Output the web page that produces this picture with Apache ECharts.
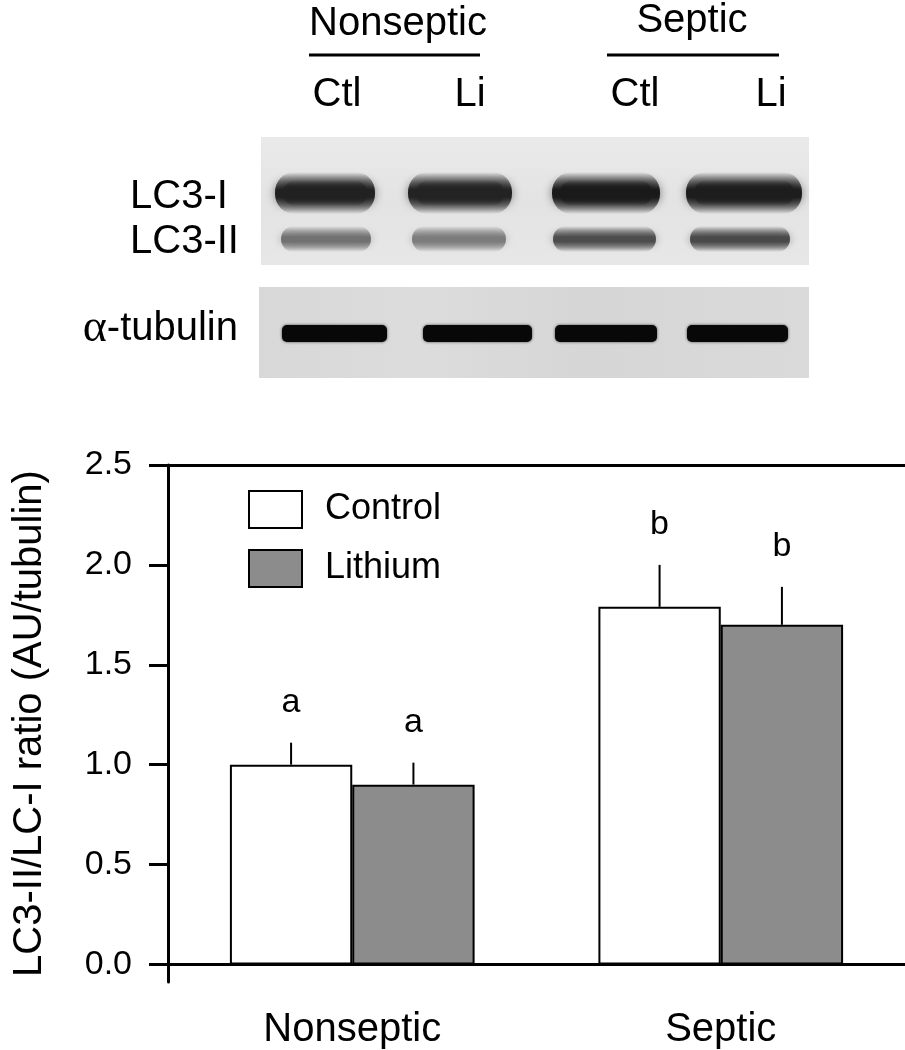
<!DOCTYPE html>
<html>
<head>
<meta charset="utf-8">
<script src="https://cdn.jsdelivr.net/npm/echarts@6/dist/echarts.min.js"></script>
<style>
html,body{margin:0;padding:0;background:#fff;}
#chart{width:905px;height:1050px;}
</style>
</head>
<body>
<div id="chart"></div>
<script>
// ---- data ----
const categories = ['Nonseptic', 'Septic'];
const controlValues = [1.00, 1.79];
const lithiumValues = [0.90, 1.70];
const controlErrors = [0.11, 0.21];
const lithiumErrors = [0.11, 0.19];
const controlLetters = ['a', 'b'];
const lithiumLetters = ['a', 'b'];
const yTicks = [0, 0.5, 1.0, 1.5, 2.0, 2.5];
const seriesNames = ['Control', 'Lithium'];
const yAxisTitle = 'LC3-II/LC-I ratio (AU/tubulin)';
const blotGroups = ['Nonseptic', 'Septic'];
const blotLanes = ['Ctl', 'Li', 'Ctl', 'Li'];
const blotRows = ['LC3-I', 'LC3-II', '-tubulin'];
// relative band darkness (0..1) read from the blot
const lc3iDark = [0.93, 0.92, 0.96, 0.95];
const lc3iiDark = [0.55, 0.5, 0.72, 0.74];

const FONT = '"Liberation Sans", Arial, sans-serif';
const chart = echarts.init(document.getElementById('chart'), null, {renderer: 'canvas'});

function errSeries(values, errors, letters, side) {
  return {
    type: 'custom',
    z: 5,
    silent: true,
    data: values.map((v, i) => [i, v, errors[i]]),
    renderItem: function (params, api) {
      const i = api.value(0), v = api.value(1), e = api.value(2);
      const band = api.size([1, 0])[0];
      const base = api.coord([i, v]);
      const top = api.coord([i, v + e]);
      const x = base[0] + side * band * 0.166;
      return {
        type: 'group',
        children: [
          {type: 'line', shape: {x1: x, y1: base[1], x2: x, y2: top[1]}, style: {stroke: '#000', lineWidth: 2}},
          {type: 'text', style: {text: letters[params.dataIndex], x: x, y: top[1] - 40, align: 'center', verticalAlign: 'middle', font: '34px ' + FONT, fill: '#000'}}
        ]
      };
    }
  };
}

function rgba(d, a) { const c = Math.round(230 - d * 212); return 'rgba(' + c + ',' + c + ',' + c + ',' + a + ')'; }
function bandFill(d) {
  return new echarts.graphic.LinearGradient(0, 0, 0, 1, [
    {offset: 0, color: rgba(d, 0)},
    {offset: 0.22, color: rgba(d, 0.55)},
    {offset: 0.42, color: rgba(d, 1)},
    {offset: 0.6, color: rgba(d, 1)},
    {offset: 0.8, color: rgba(d, 0.55)},
    {offset: 1, color: rgba(d, 0)}
  ]);
}

const lc3iSpan = [[271, 379], [404, 516], [548, 664], [682, 806]];
const lc3iiSpan = [[281, 371], [412, 506], [553, 656], [690, 790]];
const tubSpan = [[282, 387], [423, 532], [555, 657], [687, 788]];
const graphics = [];
// header texts
graphics.push({type: 'text', style: {text: blotGroups[0], x: 398, y: 24, align: 'center', verticalAlign: 'middle', font: '40px ' + FONT, fill: '#000'}});
graphics.push({type: 'text', style: {text: blotGroups[1], x: 692, y: 21, align: 'center', verticalAlign: 'middle', font: '40px ' + FONT, fill: '#000'}});
graphics.push({type: 'line', shape: {x1: 309, y1: 55, x2: 480, y2: 55}, style: {stroke: '#000', lineWidth: 3}});
graphics.push({type: 'line', shape: {x1: 607, y1: 55, x2: 779, y2: 55}, style: {stroke: '#000', lineWidth: 3}});
const laneLabelX = [337, 470, 635, 771];
blotLanes.forEach((t, i) => graphics.push({type: 'text', style: {text: t, x: laneLabelX[i], y: 95, align: 'center', verticalAlign: 'middle', font: '40px ' + FONT, fill: '#000'}}));
// row labels
graphics.push({type: 'text', style: {text: blotRows[0], x: 130, y: 197, align: 'left', verticalAlign: 'middle', font: '40px ' + FONT, fill: '#000'}});
graphics.push({type: 'text', style: {text: blotRows[1], x: 130, y: 242, align: 'left', verticalAlign: 'middle', font: '40px ' + FONT, fill: '#000'}});
graphics.push({type: 'text', style: {text: '{a|α}' + blotRows[2], x: 238, y: 329, align: 'right', verticalAlign: 'middle', font: '40px ' + FONT, fill: '#000',
  rich: {a: {fontFamily: '"Liberation Serif", "DejaVu Serif", serif', fontSize: 46, fill: '#000'}}}});
// blot boxes
graphics.push({type: 'rect', shape: {x: 261, y: 137, width: 548, height: 128}, style: {fill: new echarts.graphic.LinearGradient(0, 0, 0, 1, [{offset: 0, color: '#eaeaea'}, {offset: 0.5, color: '#e3e3e3'}, {offset: 1, color: '#e7e7e7'}])}});
graphics.push({type: 'rect', shape: {x: 259, y: 287, width: 550, height: 91}, style: {fill: new echarts.graphic.LinearGradient(0, 0, 1, 0, [{offset: 0, color: '#d8d8d8'}, {offset: 0.3, color: '#dcdcdc'}, {offset: 0.6, color: '#d6d6d6'}, {offset: 1, color: '#dadada'}])}});
// bands
lc3iSpan.forEach((s, i) => {
  const w = s[1] - s[0];
  graphics.push({type: 'rect', shape: {x: s[0] + 4, y: 172, width: w - 8, height: 42, r: 20}, style: {fill: bandFill(lc3iDark[i]), shadowBlur: 10, shadowColor: rgba(lc3iDark[i], 0.5)}});
  graphics.push({type: 'rect', shape: {x: s[0] + 12, y: 180, width: w - 24, height: 26, r: 13}, style: {fill: bandFill(lc3iDark[i]), shadowBlur: 8, shadowColor: rgba(lc3iDark[i], 0.4)}});
});
lc3iiSpan.forEach((s, i) => {
  const w = s[1] - s[0];
  graphics.push({type: 'rect', shape: {x: s[0], y: 226, width: w, height: 26, r: 13}, style: {fill: bandFill(lc3iiDark[i]), shadowBlur: 8, shadowColor: rgba(lc3iiDark[i], 0.4)}});
});
tubSpan.forEach((s) => {
  graphics.push({type: 'rect', shape: {x: s[0], y: 325, width: s[1] - s[0], height: 17, r: 5}, style: {fill: '#080808', shadowBlur: 3, shadowColor: '#444'}});
});

const option = {
  backgroundColor: '#fff',
  animation: false,
  textStyle: {fontFamily: FONT},
  grid: {left: 168, right: 0, top: 465, bottom: 55, containLabel: false},
  legend: {
    data: seriesNames,
    orient: 'vertical',
    left: 243, top: 485,
    itemWidth: 53, itemHeight: 37, itemGap: 20,
    icon: 'rect',
    textStyle: {fontSize: 36, color: '#000', fontFamily: FONT, padding: [0, 0, 0, 18]},
    selectedMode: false
  },
  xAxis: [
    {
      type: 'category', data: categories, position: 'bottom',
      axisLine: {onZero: true, lineStyle: {color: '#000', width: 3}},
      axisTick: {show: false},
      axisLabel: {fontSize: 40, color: '#000', margin: 28, fontFamily: FONT}
    },
    {
      type: 'category', data: categories, position: 'top',
      axisLine: {onZero: false, lineStyle: {color: '#000', width: 3}},
      axisTick: {show: false}, axisLabel: {show: false}
    }
  ],
  yAxis: {
    type: 'value', min: -0.088, max: 2.5,
    name: yAxisTitle, nameLocation: 'middle', nameRotate: 90, nameGap: 118,
    nameTextStyle: {fontSize: 40, color: '#000', fontFamily: FONT},
    axisLine: {show: true, onZero: false, lineStyle: {color: '#000', width: 3}},
    axisTick: {show: true, length: 19, customValues: yTicks, lineStyle: {color: '#000', width: 3}},
    axisLabel: {customValues: yTicks, fontSize: 34, color: '#000', margin: 36, formatter: v => v.toFixed(1), fontFamily: FONT},
    splitLine: {show: false}
  },
  series: [
    {name: seriesNames[0], type: 'bar', data: controlValues, barGap: '0%', barCategoryGap: '33.6%',
     itemStyle: {color: '#ffffff', borderColor: '#000', borderWidth: 2}},
    {name: seriesNames[1], type: 'bar', data: lithiumValues, barGap: '0%', barCategoryGap: '33.6%',
     itemStyle: {color: '#8c8c8c', borderColor: '#000', borderWidth: 2}},
    errSeries(controlValues, controlErrors, controlLetters, -1),
    errSeries(lithiumValues, lithiumErrors, lithiumLetters, 1)
  ],
  graphic: graphics
};
chart.setOption(option);
</script>
</body>
</html>
